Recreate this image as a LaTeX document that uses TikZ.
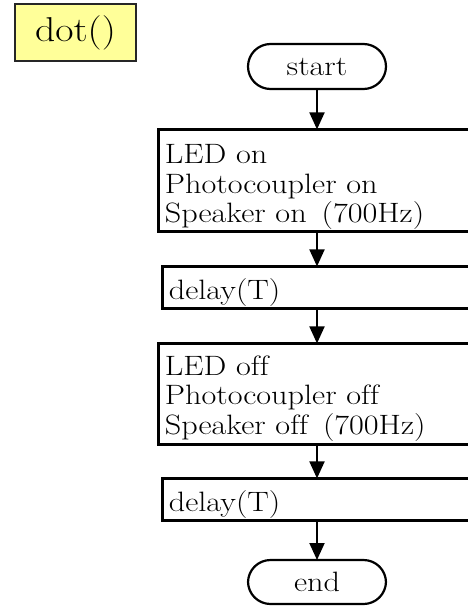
\documentclass[tikz,border=0pt]{standalone}
\usepackage{fontspec}
\setmainfont{Latin Modern Roman}[FakeStretch=1.15, Ligatures=NoCommon]
\usetikzlibrary{arrows.meta}
\definecolor{titlefill}{RGB}{255,255,153}
\begin{document}
\begin{tikzpicture}[x=1pt,y=1pt,
  every node/.style={outer sep=0pt},
  termbox/.style={draw=black, line width=2.2pt, rectangle, rounded corners=22.5pt,
    minimum width=138pt, minimum height=45pt, inner sep=0pt,
    font=\fontsize{28pt}{29.7pt}\selectfont},
  procbox/.style={draw=black, line width=2.8pt, rectangle, inner sep=0pt,
    minimum width=330pt, anchor=north west},
  proctext/.style={inner sep=0pt, anchor=north west, align=left,
    font=\fontsize{28pt}{29.7pt}\selectfont},
  flow/.style={line width=2pt, -{Triangle[width=15pt,length=17pt]}}
]
\clip (0,0) rectangle (468,-608);
\useasboundingbox (0,0) rectangle (468,-608);

% title
\node[draw=black!85, line width=2pt, fill=titlefill, minimum width=121pt,
  minimum height=57pt, inner sep=0pt, font=\fontsize{34.5pt}{36pt}\selectfont]
  (title) at (75.5,-32.5) {dot()};

% terminals
\node[termbox] (start) at (317,-66.5) {start};
\node[termbox, minimum height=44pt] (end) at (317,-582) {end};

% process boxes
\node[procbox, minimum height=102.2pt] (b1) at (158.4,-129.4) {};
\node[proctext] (t1) at ([shift={(6.5pt,-14.8pt)}]b1.north west)
  {LED on\\Photocoupler on\\Speaker on\hspace{15pt}(700Hz)};

\node[procbox, minimum height=42.2pt] (d1) at (162.4,-266.4) {};
\node[proctext] (td1) at ([shift={(6.5pt,-11.9pt)}]d1.north west) {delay(T)};

\node[procbox, minimum height=101.2pt] (b2) at (158.4,-343.4) {};
\node[proctext] (t2) at ([shift={(6.5pt,-12.2pt)}]b2.north west)
  {LED off\\Photocoupler off\\Speaker off\hspace{15pt}(700Hz)};

\node[procbox, minimum height=42.2pt] (d2) at (162.4,-478.4) {};
\node[proctext] (td2) at ([shift={(6.5pt,-12.1pt)}]d2.north west) {delay(T)};

% connectors
\draw[flow] (start.south) -- (start.south |- b1.north);
\draw[flow] (start.south |- b1.south) -- (start.south |- d1.north);
\draw[flow] (start.south |- d1.south) -- (start.south |- b2.north);
\draw[flow] (start.south |- b2.south) -- (start.south |- d2.north);
\draw[flow] (start.south |- d2.south) -- (end.north);
\end{tikzpicture}
\end{document}
